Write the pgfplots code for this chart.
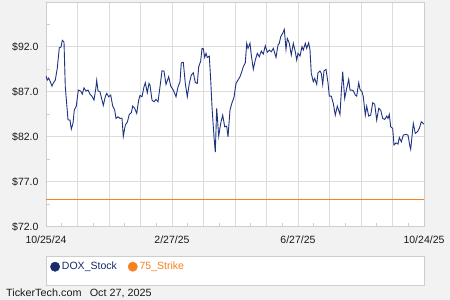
\documentclass[border=0pt]{standalone}
\usepackage{fontspec}
\setmainfont{Liberation Sans}
\usepackage{pgfplots}
\pgfplotsset{compat=1.18}
\definecolor{bg}{HTML}{F2F2F2}
\definecolor{gridc}{HTML}{DCDCDC}
\definecolor{framec}{HTML}{CDCDCD}
\definecolor{navy}{HTML}{1F3380}
\definecolor{legnavy}{HTML}{1A2A6C}
\definecolor{orng}{HTML}{F5821F}
\definecolor{txt}{HTML}{1A1A1A}
\begin{document}
\begin{tikzpicture}[x=1pt,y=1pt]
\fill[bg] (0,0) rectangle (450,300);
\filldraw[fill=white, draw=framec, line width=0.8pt] (46,15) rectangle (424,44);
\begin{axis}[
  at={(46pt,73.3pt)}, anchor=south west, scale only axis,
  width=378pt, height=224pt,
  xmin=0, xmax=378, ymin=72, ymax=96.87,
  axis background/.style={fill=white},
  axis line style={framec, line width=0.8pt},
  grid=major, grid style={gridc, line width=0.8pt},
  xtick={0,31.5,63,94.5,126,157.5,189,220.5,252,283.5,315,346.5,378},
  xticklabels={10/25/24,,,,2/27/25,,,,6/27/25,,,,10/24/25},
  minor xtick={15.75,47.25,78.75,110.25,141.75,173.25,204.75,236.25,267.75,299.25,330.75,362.25},
  ytick={72,77,82,87,92},
  yticklabels={\$72.0,\$77.0,\$82.0,\$87.0,\$92.0},
  minor ytick={74.5,79.5,84.5,89.5,94.5},
  tick align=inside, tick pos=left,
  major tick length=0pt, minor tick length=4pt,
  minor tick style={framec, line width=0.8pt},
  ticklabel style={font=\fontsize{10.5}{12}\selectfont, text=txt},
  yticklabel style={xshift=-4pt},
  xticklabel style={yshift=-6pt},
  legend columns=2,
  legend style={at={(0,-0.1786)}, anchor=west, xshift=1pt, draw=none, fill=none,
    font=\fontsize{10.5}{12}\selectfont,
    /tikz/every odd column/.append style={column sep=0pt},
    /tikz/every even column/.append style={column sep=9pt}},
]
\addplot[orng, line width=0.9pt, forget plot] coordinates {(0,75) (378,75)};
\addplot[navy, line width=0.9pt, forget plot] coordinates {
(0,88.72)(1.3,88.28)(2.7,88.50)(4,88.17)(6,87.61)(7.3,87.95)(9.3,88.28)(11.3,89.61)
(13.3,91.87)(15,91.94)(16.3,92.69)(18,92.50)(19.3,87.53)(22,83.87)(24,83.83)(25.3,82.83)
(27,83.47)(28.3,84.95)(30.3,85.39)(32.3,87.17)(34.7,87.06)(36.3,86.72)(38,87.42)(40,87.06)
(42,87.17)(44,86.72)(46,86.47)(48,86.06)(49.7,87.25)(50.7,88.25)(52,87.09)(54,86.98)
(56,86.06)(57.3,85.47)(59.3,86.43)(60.7,86.80)(62.7,86.43)(64.7,86.61)(66.7,85.39)(68.7,84.95)
(70,84.02)(72,84.20)(74,84.02)(76,84.06)(77.3,82.02)(79.3,83.28)(81.3,83.61)(83.3,84.47)
(85.3,84.65)(86.7,85.39)(88.7,85.14)(90.7,84.58)(92.7,86.06)(94,86.58)(96,86.43)(98,87.53)
(99.3,87.98)(101.3,86.87)(103,87.91)(104,87.72)(106,86.06)(108,85.87)(110,86.14)(112,85.87)
(114,87.53)(116,89.31)(118,89.28)(120,87.80)(122.7,88.65)(124.7,87.61)(127.3,87.17)(130,86.43)
(132,87.53)(134,88.09)(135.3,90.20)(137.3,90.25)(139.3,87.91)(141.3,86.43)(143.3,87.91)(145.3,88.83)
(147.3,89.09)(149.3,88.02)(151.3,87.91)(152.7,89.76)(154.7,90.39)(156,91.80)(157.3,91.76)(158.7,90.80)
(160,91.24)(161.3,90.80)(163.3,90.94)(164.7,88.28)(166,85.31)(168,81.98)(169.3,80.28)(170.7,85.14)
(172.7,82.06)(174.7,83.47)(176.7,84.39)(178.7,83.09)(180.7,83.17)(182,81.98)(184,84.95)(186,85.76)
(188,86.36)(190,87.91)(192,88.28)(194,88.65)(196,89.28)(197.3,89.76)(199.3,90.20)(200.7,92.36)
(202,91.80)(204,92.36)(205.3,91.06)(207.3,89.47)(209.3,90.50)(211.3,91.25)(213.3,90.87)(215.3,91.50)
(217.3,91.17)(219.3,92.09)(221.3,91.36)(223.3,91.61)(225.3,91.42)(227.3,91.80)(230,90.80)(232,92.17)
(233.3,92.36)(234.7,93.09)(236.7,93.47)(238.3,93.91)(240,91.69)(241.3,92.91)(243.3,92.36)(245.3,91.06)
(247.3,92.36)(249.3,91.42)(250.7,90.50)(252,91.25)(254,90.95)(256,91.98)(257.3,91.61)(259.3,92.36)
(260.7,91.80)(262.7,92.42)(264,91.61)(265.3,89.02)(267.3,88.09)(268.7,88.47)(270.7,87.80)(272,89.09)
(274,89.28)(275.3,89.02)(276.7,87.80)(278,89.31)(280,89.47)(282,87.98)(283.3,86.50)(285.3,86.50)
(287.3,85.69)(289.3,84.39)(291.3,85.39)(294,84.47)(295.3,86.98)(296.7,89.20)(298.7,86.25)(300.7,87.36)
(302.7,88.36)(304,87.17)(306,87.17)(307.3,87.09)(309.3,86.61)(310.7,86.50)(312.7,87.98)(314,87.25)
(316,86.98)(317.3,86.43)(319.3,84.39)(320.7,85.39)(322.7,84.28)(324.7,84.39)(326.7,85.76)(328.7,85.61)
(330.7,83.83)(332.7,85.14)(334.7,84.95)(336.7,84.02)(338.7,83.91)(340.7,84.28)(342,84.02)(343.3,84.47)
(344.7,83.09)(346.7,82.91)(348,81.06)(350,81.31)(352,81.17)(353.3,81.91)(355.3,81.42)(357.3,82.17)
(360,82.25)(362,82.17)(364,80.87)(364.7,80.58)(367.3,83.47)(369.3,82.36)(371.3,82.53)(373.3,82.91)
(375.3,83.65)(378,83.39)};
\addlegendimage{legend image code/.code={\fill[legnavy] (4.7pt,0pt) circle (4.7pt);}}
\addlegendentry{\textcolor{legnavy}{DOX\_Stock}}
\addlegendimage{legend image code/.code={\fill[orng] (4.7pt,0pt) circle (4.7pt);}}
\addlegendentry{\textcolor{orng}{75\_Strike}}
\end{axis}
\node[anchor=base west, inner sep=0pt, text=txt, font=\fontsize{10.5}{12}\selectfont, xscale=1.03] at (6,3) {TickerTech.com\hspace{8pt}Oct 27, 2025};
\end{tikzpicture}
\end{document}
